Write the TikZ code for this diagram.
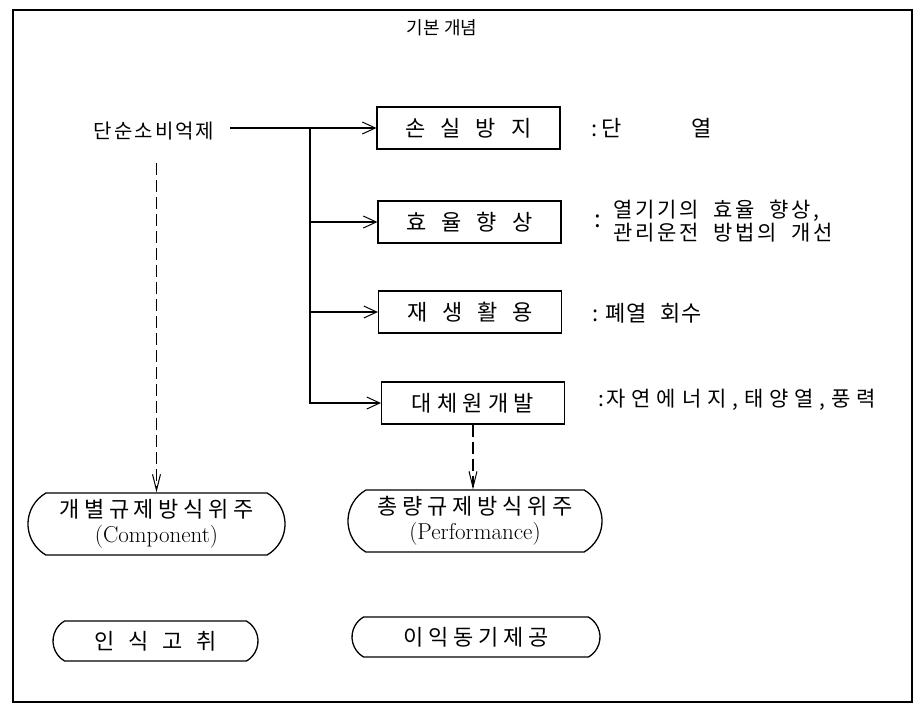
\documentclass[tikz,border=0pt]{standalone}
\usepackage{fontspec}
\newfontfamily\kr{Noto Sans CJK KR}
\newcommand\kfs[3]{\kr\fontsize{#1}{#2}\selectfont\addfontfeature{LetterSpace=#3}}
\usetikzlibrary{arrows.meta,shapes.misc}
\begin{document}
\begin{tikzpicture}[x=1pt,y=-1pt, line width=1.1pt,
 box/.style={draw, minimum width=183pt, minimum height=42pt, inner sep=0pt},
 pill/.style={draw, rounded rectangle, rounded rectangle arc length=120, line width=1.3pt, inner sep=0pt},
 note/.style={anchor=west, inner sep=0pt},
 arr/.style={-{Straight Barb[length=13pt,width=12pt,line width=1pt]}},
 darr/.style={dash pattern=on 12pt off 5pt, -{Straight Barb[length=16pt,width=8pt,line width=1pt]}},
]
\useasboundingbox (0,0) rectangle (920,705);
\draw[line width=1.3pt] (13,10) rectangle (912,702);
\node (title) at (442,28) {\kfs{18}{21}{0}기본 개념};
\node[inner sep=0pt] (dan) at (154,131) {\kfs{20}{24}{10}단순소비억제};
\node[box, font={\kfs{22}{26}{0}}] (b1) at (468.5,128) {손\hspace{15pt}실\hspace{15pt}방\hspace{15pt}지};
\node[box, font={\kfs{22}{26}{0}}] (b2) at (469.5,222) {효\hspace{15pt}율\hspace{15pt}향\hspace{15pt}상};
\node[box, font={\kfs{22}{26}{0}}] (b3) at (470,312) {재\hspace{15pt}생\hspace{15pt}활\hspace{15pt}용};
\node[box, font={\kfs{22}{26}{24}}] (b4) at (473,403) {대체원개발};
\coordinate (br) at (310,128);
\draw[arr] ([xshift=15pt]dan.east |- b1.west) -- (b1.west);
\draw[arr] (br) |- (b4.west);
\draw[arr] (br |- b2.west) -- (b2.west);
\draw[arr] (br |- b3.west) -- (b3.west);
\node[note, font={\kfs{22}{26}{0}}] (n1) at (591,128) {:\,단\hspace{3.2em}열};
\node[inner sep=0pt, font={\kfs{24}{28}{0}}] (c2) at (598,221) {:};
\node[note, align=left, font={\kfs{21}{23}{12}}] (n2) at (613,221) {열기기의\hspace{15pt}효율\hspace{15pt}향상,\\관리운전\hspace{15pt}방법의\hspace{15pt}개선};
\node[note, font={\kfs{22}{26}{5}}] (n3) at (592,313) {:\hspace{0.3em}폐열\hspace{0.6em}회수};
\node[note, font={\kfs{21}{25}{28}}] (n4) at (598,400) {:\hspace{0.1em}자연에너지,태양열,풍력};
\node[pill, minimum width=257pt, minimum height=62pt, align=center, font={\fontsize{20}{25}\selectfont}] (comp) at (156.5,524) {{\kfs{22}{25}{21}개별규제방식위주}\\{\rmfamily\fontsize{23}{25}\selectfont (Component)}};
\node[pill, minimum width=254pt, minimum height=62pt, align=center, font={\fontsize{20}{25}\selectfont}] (perf) at (475,521) {{\kfs{22}{25}{22}총량규제방식위주}\\{\rmfamily\fontsize{23}{25}\selectfont (Performance)}};
\node[pill, minimum width=205pt, minimum height=40pt, font={\kfs{22}{26}{0}}] (insik) at (155.5,641) {인\hspace{14pt}식\hspace{14pt}고\hspace{14pt}취};
\node[pill, minimum width=248pt, minimum height=40pt, font={\kfs{22}{26}{21}}] (iik) at (476,637) {이익동기제공};
\draw[darr] (dan.south -| comp.north) ++(0,22) -- (comp.north);
\draw[darr] (b4.south) -- (b4.south |- perf.north);
\end{tikzpicture}
\end{document}
